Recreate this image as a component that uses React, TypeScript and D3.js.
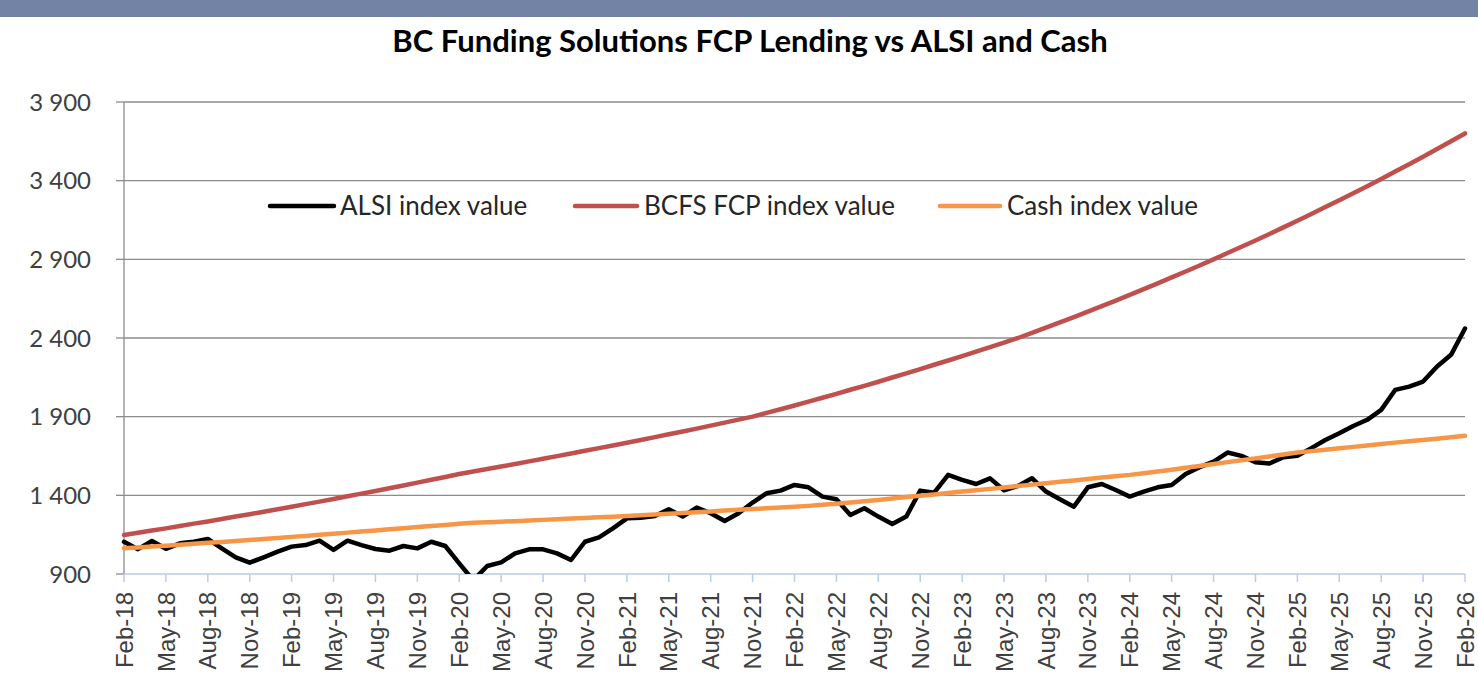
import React from "react";
import * as d3 from "d3";

const tickLabels = [
  "Feb-18", "May-18", "Aug-18", "Nov-18", "Feb-19", "May-19", "Aug-19", "Nov-19",
  "Feb-20", "May-20", "Aug-20", "Nov-20", "Feb-21", "May-21", "Aug-21", "Nov-21",
  "Feb-22", "May-22", "Aug-22", "Nov-22", "Feb-23", "May-23", "Aug-23", "Nov-23",
  "Feb-24", "May-24", "Aug-24", "Nov-24", "Feb-25", "May-25", "Aug-25", "Nov-25",
  "Feb-26",
];

const yTicks = [900, 1400, 1900, 2400, 2900, 3400, 3900];

// Monthly values Feb-18 .. Feb-26 (97 months)
const alsi = [
  1105, 1058, 1110, 1060, 1095, 1105, 1123, 1063, 1006, 972, 1006, 1042,
  1074, 1084, 1112, 1053, 1112, 1084, 1059, 1048, 1078, 1063, 1105, 1078,
  968, 860, 951, 974, 1031, 1057, 1057, 1031, 989, 1105, 1133, 1190,
  1254, 1258, 1269, 1311, 1265, 1322, 1286, 1237, 1286, 1354, 1413, 1430,
  1466, 1451, 1392, 1375, 1275, 1318, 1265, 1218, 1265, 1430, 1417, 1530,
  1498, 1472, 1508, 1432, 1460, 1509, 1424, 1375, 1328, 1451, 1472, 1434,
  1392, 1424, 1451, 1466, 1536, 1579, 1614, 1672, 1651, 1610, 1602, 1642,
  1651, 1700, 1752, 1795, 1841, 1880, 1943, 2070, 2091, 2123, 2219, 2293,
  2460,
];

const bcfs = [
  1148, 1162, 1176, 1190, 1205, 1220, 1234, 1249, 1265, 1280, 1296, 1311,
  1327, 1344, 1360, 1377, 1394, 1411, 1428, 1445, 1463, 1481, 1499, 1517,
  1536, 1552, 1567, 1583, 1599, 1616, 1632, 1649, 1666, 1683, 1700, 1717,
  1734, 1752, 1770, 1788, 1806, 1824, 1843, 1862, 1881, 1900, 1924, 1947,
  1971, 1996, 2020, 2045, 2071, 2096, 2122, 2149, 2175, 2202, 2230, 2257,
  2285, 2314, 2342, 2371, 2400, 2433, 2466, 2499, 2533, 2568, 2603, 2638,
  2674, 2711, 2747, 2785, 2823, 2861, 2900, 2940, 2980, 3020, 3061, 3103,
  3145, 3188, 3232, 3276, 3320, 3365, 3411, 3458, 3505, 3552, 3601, 3650,
  3700,
];

const cash = [
  1063, 1069, 1075, 1080, 1086, 1092, 1098, 1104, 1110, 1116, 1122, 1129,
  1136, 1142, 1149, 1156, 1163, 1170, 1177, 1184, 1191, 1198, 1205, 1212,
  1220, 1225, 1229, 1232, 1236, 1240, 1244, 1248, 1252, 1256, 1260, 1264,
  1269, 1273, 1278, 1283, 1288, 1293, 1298, 1303, 1308, 1313, 1318, 1322,
  1327, 1333, 1340, 1347, 1355, 1363, 1371, 1380, 1389, 1398, 1406, 1415,
  1424, 1432, 1441, 1450, 1459, 1468, 1477, 1486, 1495, 1504, 1513, 1521,
  1530, 1541, 1552, 1563, 1575, 1587, 1599, 1611, 1623, 1635, 1647, 1660,
  1672, 1681, 1690, 1699, 1708, 1717, 1726, 1735, 1744, 1752, 1760, 1769,
  1778,
];

const seriesNames = ["ALSI index value", "BCFS FCP index value", "Cash index value"];
const seriesColors = ["#000000", "#C0504D", "#F79646"];
const seriesValues = [alsi, bcfs, cash];

const W = 1478;
const H = 679;
const plot = { left: 124, right: 1465, top: 102, bottom: 574 };

const fmt = d3.formatLocale({ decimal: ".", thousands: " ", grouping: [3], currency: ["", ""] }).format(",");

export default function App() {
  const x = d3.scaleLinear().domain([0, alsi.length - 1]).range([plot.left, plot.right]);
  const y = d3.scaleLinear().domain([900, 3900]).range([plot.bottom, plot.top]);
  const line = d3
    .line<number>()
    .x((_, i) => x(i))
    .y((d) => y(d));

  const legendItems = [
    { seg: [270, 334], tx: 340 },
    { seg: [575, 637], tx: 644 },
    { seg: [940, 1000], tx: 1007 },
  ];
  const legendY = 206;

  return (
    <svg
      width={W}
      height={H}
      style={{ position: "absolute", left: 0, top: 0, background: "#ffffff" }}
    >
      <defs>
        <clipPath id="plotClip">
          <rect x={100} y={80} width={W - 100} height={plot.bottom - 80} />
        </clipPath>
      </defs>
      <rect x={0} y={0} width={W} height={H} fill="#ffffff" />
      <rect x={0} y={0} width={W} height={17} fill="#7383A6" />
      <text
        x={750}
        y={52}
        textAnchor="middle"
        fontFamily="Lato, 'Open Sans', sans-serif"
        fontWeight="bold"
        fontSize={31}
        fill="#000"
      >
        BC Funding Solutions FCP Lending vs ALSI and Cash
      </text>

      {/* gridlines */}
      {yTicks.map((t) => (
        <g key={t}>
          {t !== 900 && (
            <line x1={plot.left} x2={plot.right} y1={y(t)} y2={y(t)} stroke="#8C8C8C" strokeWidth={1.3} />
          )}
          <line x1={plot.left - 8} x2={plot.left} y1={y(t)} y2={y(t)} stroke="#8C8C8C" strokeWidth={1.3} />
          <text
            x={91}
            y={y(t)}
            dy="0.36em"
            textAnchor="end"
            fontFamily="Lato, sans-serif"
            fontSize={24}
            fill="#404040"
          >
            {fmt(t)}
          </text>
        </g>
      ))}
      {/* y axis */}
      <line x1={plot.left} x2={plot.left} y1={plot.top} y2={plot.bottom} stroke="#8C8C8C" strokeWidth={1.3} />

      {/* x axis */}
      <line x1={plot.left} x2={plot.right} y1={plot.bottom} y2={plot.bottom} stroke="#B9CDE5" strokeWidth={1.5} />
      {tickLabels.map((lab, k) => {
        const xi = x(k * 3);
        return (
          <g key={lab}>
            <line x1={xi} x2={xi} y1={plot.bottom} y2={plot.bottom + 8} stroke="#B9CDE5" strokeWidth={1.5} />
            <text
              transform={`translate(${xi},${plot.bottom + 18}) rotate(-90)`}
              dy="0.36em"
              textAnchor="end"
              fontFamily="'Liberation Sans', Arial, sans-serif"
              fontSize={24}
              fill="#404040"
            >
              {lab}
            </text>
          </g>
        );
      })}

      {/* series */}
      <g clipPath="url(#plotClip)">
        {seriesValues.map((vals, i) => (
          <path
            key={seriesNames[i]}
            d={line(vals) || ""}
            fill="none"
            stroke={seriesColors[i]}
            strokeWidth={4.5}
            strokeLinejoin="round"
            strokeLinecap="round"
          />
        ))}
      </g>

      {/* legend */}
      {legendItems.map((it, i) => (
        <g key={seriesNames[i]}>
          <line
            x1={it.seg[0]}
            x2={it.seg[1]}
            y1={legendY}
            y2={legendY}
            stroke={seriesColors[i]}
            strokeWidth={4.5}
            strokeLinecap="round"
          />
          <text
            x={it.tx}
            y={legendY}
            dy="0.36em"
            fontFamily="Lato, sans-serif"
            fontSize={26}
            fill="#262626"
          >
            {seriesNames[i]}
          </text>
        </g>
      ))}
    </svg>
  );
}
